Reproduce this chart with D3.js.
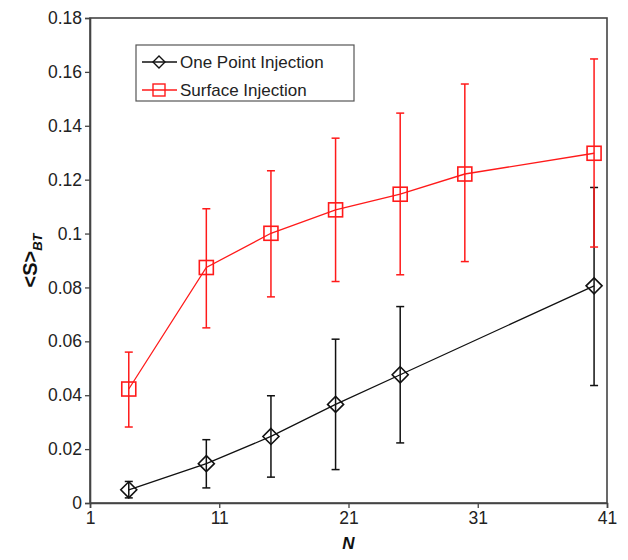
<!DOCTYPE html>
<html>
<head>
<meta charset="utf-8">
<script src="https://cdn.jsdelivr.net/npm/d3@7"></script>
<style>
  body { margin: 0; background: #fff; overflow: hidden; }
  svg { display: block; }
  svg text { font-family: "Liberation Sans", Arial, sans-serif; }
</style>
</head>
<body>
<script>
// values
var nOnePoint = [4, 10, 15, 20, 25, 40];
var sOnePoint = [0.0049, 0.0146, 0.0247, 0.0366, 0.0476, 0.0806];
var hiOnePoint = [0.0080, 0.0235, 0.0398, 0.0608, 0.0729, 0.1171];
var loOnePoint = [0.0019, 0.0056, 0.0096, 0.0124, 0.0223, 0.0436];

var nSurface = [4, 10, 15, 20, 25, 30, 40];
var sSurface = [0.0423, 0.0874, 0.1001, 0.1088, 0.1146, 0.1221, 0.1298];
var hiSurface = [0.0560, 0.1092, 0.1233, 0.1354, 0.1447, 0.1555, 0.1648];
var loSurface = [0.0282, 0.0650, 0.0765, 0.0822, 0.0847, 0.0896, 0.0950];

var xTicks = [1, 11, 21, 31, 41];
var yTicks = [0, 0.02, 0.04, 0.06, 0.08, 0.1, 0.12, 0.14, 0.16, 0.18];

var margin = {top: 18, right: 21, bottom: 57, left: 90};
var W = 628, H = 560;
var width = W - margin.left - margin.right,
    height = H - margin.top - margin.bottom;

var svg = d3.select("body").append("svg")
    .attr("width", W).attr("height", H);
var g = svg.append("g")
    .attr("transform", "translate(" + margin.left + "," + margin.top + ")");

var x = d3.scaleLinear().domain([1, 41]).range([0, width]);
var y = d3.scaleLinear().domain([0, 0.18]).range([height, 0]);

var axisColor = "#444";

// frame
g.append("rect").attr("width", width).attr("height", height)
  .attr("fill", "none").attr("stroke", axisColor).attr("stroke-width", 1.6);

var xg = g.append("g").attr("transform", "translate(0," + height + ")")
  .call(d3.axisBottom(x).tickValues(xTicks).tickSize(5).tickPadding(4).tickFormat(d3.format("d")));
var yg = g.append("g")
  .call(d3.axisLeft(y).tickValues(yTicks).tickSize(5).tickPadding(3).tickFormat(d => String(+d.toFixed(2))));

[xg, yg].forEach(a => {
  a.select(".domain").attr("stroke", axisColor).attr("stroke-width", 1.6);
  a.selectAll(".tick line").attr("stroke", axisColor).attr("stroke-width", 1.3);
  a.selectAll("text").attr("font-size", 17.5).attr("fill", "#222")
    .style("font-family", "'Liberation Sans', Arial, sans-serif");
});

// axis titles
g.append("text").attr("x", width / 2).attr("y", height + 46)
  .attr("text-anchor", "middle").attr("font-size", 17)
  .attr("font-weight", "bold").attr("font-style", "italic").attr("fill", "#111")
  .text("N");

var yl = svg.append("text")
  .attr("transform", "translate(37," + (margin.top + height / 2) + ") rotate(-90)")
  .attr("text-anchor", "middle").attr("font-size", 20)
  .attr("font-weight", "bold").attr("fill", "#111");
yl.append("tspan").text("<S>");
yl.append("tspan").attr("font-size", 13).attr("font-style", "italic")
  .attr("dy", 5).text("BT");

var series = [
  {name: "One Point Injection", n: nOnePoint, s: sOnePoint, hi: hiOnePoint, lo: loOnePoint,
   color: "#111", symbol: "diamond"},
  {name: "Surface Injection", n: nSurface, s: sSurface, hi: hiSurface, lo: loSurface,
   color: "#ff1a1a", symbol: "square"}
];

function marker(sel, type, color) {
  if (type === "square") {
    sel.append("rect").attr("x", -7).attr("y", -7).attr("width", 14).attr("height", 14)
      .attr("fill", "none").attr("stroke", color).attr("stroke-width", 1.6);
  } else {
    sel.append("path").attr("d", "M0,-8L8,0L0,8L-8,0Z")
      .attr("fill", "none").attr("stroke", color).attr("stroke-width", 1.6);
  }
}

var line = d3.line().x(d => x(d.n)).y(d => y(d.s));

series.forEach(sr => {
  var pts = sr.n.map((n, i) => ({n: n, s: sr.s[i], hi: sr.hi[i], lo: sr.lo[i]}));
  var sg = g.append("g");
  var eb = sg.selectAll(".eb").data(pts).enter().append("g")
    .attr("stroke", sr.color).attr("stroke-width", 1.5);
  eb.append("line").attr("x1", d => x(d.n)).attr("x2", d => x(d.n))
    .attr("y1", d => y(d.hi)).attr("y2", d => y(d.lo));
  eb.append("line").attr("x1", d => x(d.n) - 4).attr("x2", d => x(d.n) + 4)
    .attr("y1", d => y(d.hi)).attr("y2", d => y(d.hi));
  eb.append("line").attr("x1", d => x(d.n) - 4).attr("x2", d => x(d.n) + 4)
    .attr("y1", d => y(d.lo)).attr("y2", d => y(d.lo));
  sg.append("path").datum(pts).attr("d", line)
    .attr("fill", "none").attr("stroke", sr.color).attr("stroke-width", 1.3);
  sg.selectAll(".mk").data(pts).enter().append("g")
    .attr("transform", d => "translate(" + x(d.n) + "," + y(d.s) + ")")
    .each(function() { marker(d3.select(this), sr.symbol, sr.color); });
});

// legend
var lg = svg.append("g").attr("transform", "translate(136,45)");
lg.append("rect").attr("width", 218).attr("height", 56)
  .attr("fill", "#fff").attr("stroke", "#555").attr("stroke-width", 1.2);
series.forEach((sr, i) => {
  var row = lg.append("g").attr("transform", "translate(0," + (17 + i * 28) + ")");
  row.append("line").attr("x1", 6).attr("x2", 41).attr("stroke", sr.color).attr("stroke-width", 1.3);
  var m = row.append("g").attr("transform", "translate(23,0)");
  if (sr.symbol === "square") {
    m.append("rect").attr("x", -6).attr("y", -6).attr("width", 12).attr("height", 12)
      .attr("fill", "none").attr("stroke", sr.color).attr("stroke-width", 1.4);
  } else {
    m.append("path").attr("d", "M0,-6L6,0L0,6L-6,0Z")
      .attr("fill", "none").attr("stroke", sr.color).attr("stroke-width", 1.4);
  }
  row.append("text").attr("x", 44).attr("y", 6).attr("font-size", 17)
    .attr("fill", "#222").text(sr.name);
});
</script>
</body>
</html>
